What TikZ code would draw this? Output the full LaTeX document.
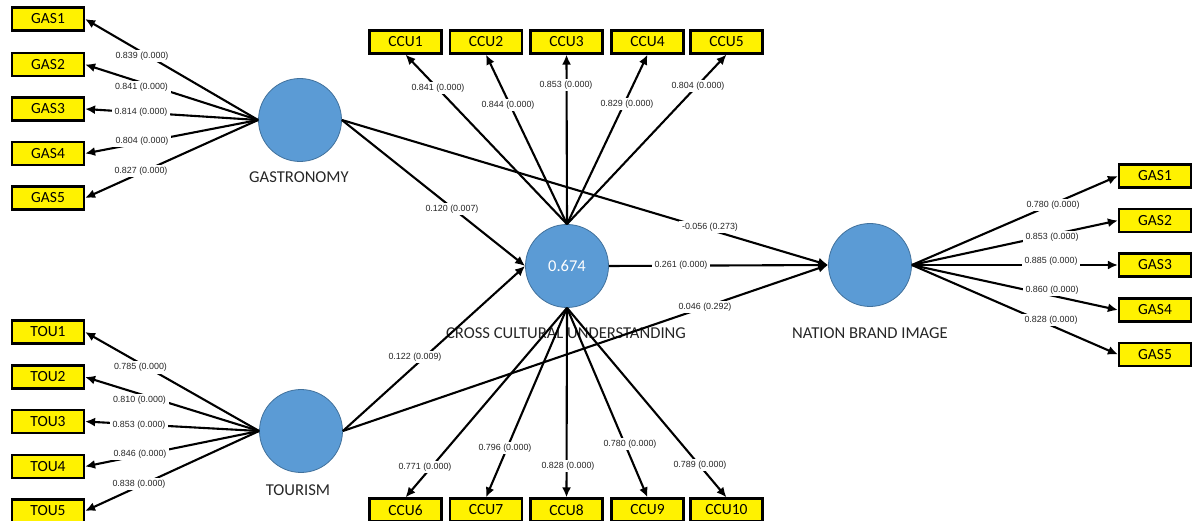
\documentclass[tikz,border=0pt]{standalone}
\usepackage{fontspec}
\setmainfont{Carlito}
\newfontfamily\numfont{Liberation Sans}
\usetikzlibrary{arrows.meta}
\definecolor{latentblue}{HTML}{5B9BD5}
\definecolor{latentedge}{HTML}{41719C}
\begin{document}
\begin{tikzpicture}[x=1pt,y=-1pt,
  ind/.style={draw=black,line width=2.2pt,fill=yellow,minimum width=72pt,minimum height=23pt,inner sep=0pt,font=\fontsize{15.5}{18}\selectfont},
  lat/.style={circle,draw=latentedge,line width=0.8pt,fill=latentblue,minimum size=83pt,inner sep=0pt},
  latname/.style={font=\fontsize{16.6}{19}\selectfont,text=black!85,inner sep=0pt},
  arr/.style={line width=2.1pt,-{Latex[length=10pt,width=9pt]}},
  coef/.style={fill=white,inner xsep=3pt,inner ysep=2pt,font=\numfont\fontsize{8.9}{10}\selectfont,text=black!85}]
\useasboundingbox (0,0) rectangle (1192,521);

% latent names (under the lines)
\node[latname] (gasname) at (299,177.5) {GASTRONOMY};
\node[latname] (touname) at (298,490) {TOURISM};
\node[latname] (ccuname) at (566,333) {CROSS CULTURAL UNDERSTANDING};
\node[latname] (nbiname) at (870,333) {NATION BRAND IMAGE};

% latent variables
\node[lat] (gas) at (300,120) {};
\node[lat] (tou) at (301,431) {};
\node[lat,text=white,font=\fontsize{16.5}{19}\selectfont] (ccu) at (567,266) {\raisebox{-6pt}{0.674}};
\node[lat] (nbi) at (870,265) {};

% indicators: gastronomy
\node[ind] (lg1) at (48,19) {GAS1};
\node[ind] (lg2) at (48,64.5) {GAS2};
\node[ind] (lg3) at (48,109) {GAS3};
\node[ind] (lg4) at (48,153.5) {GAS4};
\node[ind] (lg5) at (48,198) {GAS5};
% tourism
\node[ind] (lt1) at (48,332) {TOU1};
\node[ind] (lt2) at (48,377) {TOU2};
\node[ind] (lt3) at (48,421.5) {TOU3};
\node[ind] (lt4) at (48,466.5) {TOU4};
\node[ind] (lt5) at (48,511) {TOU5};
% ccu top
\node[ind] (ct1) at (405.5,42) {CCU1};
\node[ind] (ct2) at (486,42) {CCU2};
\node[ind] (ct3) at (566.5,42) {CCU3};
\node[ind] (ct4) at (647.5,42) {CCU4};
\node[ind] (ct5) at (726.5,42) {CCU5};
% ccu bottom
\node[ind] (cb6) at (405.5,510) {CCU6};
\node[ind] (cb7) at (486,510) {CCU7};
\node[ind] (cb8) at (566.5,510) {CCU8};
\node[ind] (cb9) at (647.5,510) {CCU9};
\node[ind] (cb10) at (726.5,510) {CCU10};
% nation brand image
\node[ind] (rg1) at (1155,176) {GAS1};
\node[ind] (rg2) at (1155,220.5) {GAS2};
\node[ind] (rg3) at (1155,265) {GAS3};
\node[ind] (rg4) at (1155,310) {GAS4};
\node[ind] (rg5) at (1155,354.5) {GAS5};

% loadings
\foreach \i in {1,...,5} {
  \draw[arr] (gas.west) -- (lg\i.east);
  \draw[arr] (tou.west) -- (lt\i.east);
  \draw[arr] (ccu.north) -- (ct\i.south);
  \draw[arr] (nbi.east) -- (rg\i.west);
}
\foreach \i in {6,...,10} {
  \draw[arr] (ccu.south) -- (cb\i.north);
}
% structural paths
\draw[arr] (gas.east) -- (ccu.west);
\draw[arr] (gas.east) -- (nbi.west);
\draw[arr] (tou.east) -- (ccu.west);
\draw[arr] (tou.east) -- (nbi.west);
\draw[arr] (ccu.east) -- (nbi.west);

% coefficient labels
\node[coef] (k1) at (142,56) {0.839 (0.000)};
\node[coef] (k2) at (141.5,87) {0.841 (0.000)};
\node[coef] (k3) at (141,112) {0.814 (0.000)};
\node[coef] (k4) at (142,141) {0.804 (0.000)};
\node[coef] (k5) at (141,171) {0.827 (0.000)};

\node[coef] (t1) at (140.5,367.5) {0.785 (0.000)};
\node[coef] (t2) at (139.5,400) {0.810 (0.000)};
\node[coef] (t3) at (139,425) {0.853 (0.000)};
\node[coef] (t4) at (140,454) {0.846 (0.000)};
\node[coef] (t5) at (139,484) {0.838 (0.000)};

\node[coef] (u1) at (438,88) {0.841 (0.000)};
\node[coef] (u2) at (508,105) {0.844 (0.000)};
\node[coef] (u3) at (566,85) {0.853 (0.000)};
\node[coef] (u4) at (627,104) {0.829 (0.000)};
\node[coef] (u5) at (698,86) {0.804 (0.000)};

\node[coef] (u6) at (425,467) {0.771 (0.000)};
\node[coef] (u7) at (505,448) {0.796 (0.000)};
\node[coef] (u8) at (568,466) {0.828 (0.000)};
\node[coef] (u9) at (630,444) {0.780 (0.000)};
\node[coef] (u10) at (700,465) {0.789 (0.000)};

\node[coef] (p1) at (452,209) {0.120 (0.007)};
\node[coef] (p2) at (415,357) {0.122 (0.009)};
\node[coef] (p3) at (710,227) {-0.056 (0.273)};
\node[coef] (p4) at (681,265) {0.261 (0.000)};
\node[coef] (p5) at (705,307) {0.046 (0.292)};

\node[coef] (n1) at (1053,205) {0.780 (0.000)};
\node[coef] (n2) at (1052,237) {0.853 (0.000)};
\node[coef] (n3) at (1051,261) {0.885 (0.000)};
\node[coef] (n4) at (1052,290) {0.860 (0.000)};
\node[coef] (n5) at (1051,320) {0.828 (0.000)};
\end{tikzpicture}
\end{document}
